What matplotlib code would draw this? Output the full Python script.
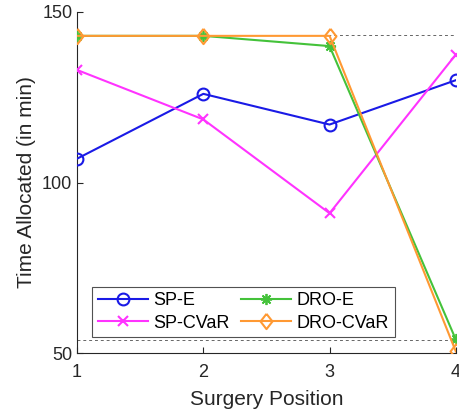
import matplotlib.pyplot as plt
import numpy as np

plt.rcParams['font.family'] = ['Liberation Sans', 'DejaVu Sans']

positions = [1, 2, 3, 4]
sp_e = [107, 126, 117, 130]
sp_cvar = [133, 118.5, 91, 137.5]
dro_e = [143, 143, 140, 54]
dro_cvar = [143, 143, 143, 50.5]
ref_levels = [143.2, 53.8]

# slightly tall diamond and 8-arm asterisk, like the default markers of the source tool
diamond = [(0, 1), (0.78, 0), (0, -1), (-0.78, 0), (0, 1)]

fig = plt.figure(figsize=(4.59, 4.13), dpi=100)
ax = fig.add_axes([0.168, 0.145, 0.825, 0.826])

for lvl in ref_levels:
    ax.axhline(lvl, color='#666666', ls=(0, (3, 3)), lw=0.7, zorder=1)

ax.plot(positions, sp_e, color='#1a1ae6', lw=1.5, marker='o', ms=8.5,
        mfc='none', mew=1.5, label='SP-E', zorder=3)
ax.plot(positions, sp_cvar, color='#ff33ff', lw=1.5, marker='x', ms=7,
        mew=1.5, label='SP-CVaR', zorder=3)
ax.plot(positions, dro_e, color='#44c23a', lw=1.5, marker=(8, 2, 0), ms=8,
        mew=1.3, label='DRO-E', zorder=3)
ax.plot(positions, dro_cvar, color='#ff9933', lw=1.5, marker=diamond, ms=11,
        mfc='none', mew=1.5, label='DRO-CVaR', zorder=3)

ax.set_xlim(1, 4)
ax.set_ylim(50, 150)
ax.set_xticks([1, 2, 3, 4])
ax.set_yticks([50, 100, 150])
ax.tick_params(direction='in', length=4, labelsize=13, colors='#262626',
               width=0.8)
ax.tick_params(axis='x', pad=8)
ax.spines['top'].set_visible(False)
ax.spines['right'].set_visible(False)
for s in ('left', 'bottom'):
    ax.spines[s].set_color('#262626')
    ax.spines[s].set_linewidth(0.8)

ax.set_xlabel('Surgery Position', fontsize=15, color='#262626', labelpad=6)
ax.set_ylabel('Time Allocated (in min)', fontsize=15, color='#262626')

leg = ax.legend(ncol=2, loc='lower left', bbox_to_anchor=(0.04, 0.047),
                borderaxespad=0, fontsize=13, frameon=True, fancybox=False,
                edgecolor='#262626', handlelength=2.8, columnspacing=0.6,
                borderpad=0.3, labelspacing=0.3, handletextpad=0.3)
leg.get_frame().set_linewidth(0.8)

fig.savefig('out.png', dpi=100)
